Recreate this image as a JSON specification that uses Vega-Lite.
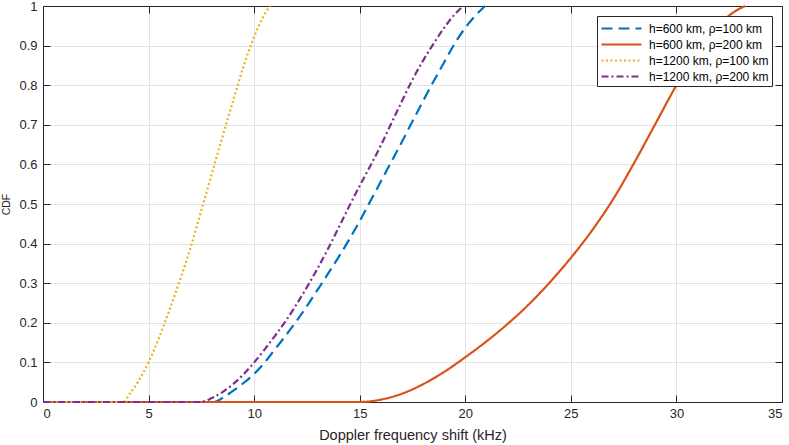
{
  "$schema": "https://vega.github.io/schema/vega-lite/v6.json",
  "width": 739,
  "height": 396,
  "autosize": {"type": "none"},
  "padding": {"left": 43, "top": 6, "right": 7, "bottom": 43},
  "background": "white",
  "data": {
    "values": [
      {"series": "h=600 km, ρ=100 km", "x": 0, "y": 0},
      {"series": "h=600 km, ρ=100 km", "x": 8.1, "y": 0},
      {"series": "h=600 km, ρ=100 km", "x": 8.5, "y": 0.01},
      {"series": "h=600 km, ρ=100 km", "x": 9, "y": 0.028},
      {"series": "h=600 km, ρ=100 km", "x": 9.5, "y": 0.048},
      {"series": "h=600 km, ρ=100 km", "x": 10, "y": 0.071},
      {"series": "h=600 km, ρ=100 km", "x": 10.5, "y": 0.1},
      {"series": "h=600 km, ρ=100 km", "x": 11, "y": 0.134},
      {"series": "h=600 km, ρ=100 km", "x": 11.5, "y": 0.168},
      {"series": "h=600 km, ρ=100 km", "x": 12, "y": 0.204},
      {"series": "h=600 km, ρ=100 km", "x": 12.5, "y": 0.242},
      {"series": "h=600 km, ρ=100 km", "x": 13, "y": 0.283},
      {"series": "h=600 km, ρ=100 km", "x": 13.5, "y": 0.324},
      {"series": "h=600 km, ρ=100 km", "x": 14, "y": 0.366},
      {"series": "h=600 km, ρ=100 km", "x": 14.5, "y": 0.41},
      {"series": "h=600 km, ρ=100 km", "x": 15, "y": 0.457},
      {"series": "h=600 km, ρ=100 km", "x": 15.5, "y": 0.507},
      {"series": "h=600 km, ρ=100 km", "x": 16, "y": 0.557},
      {"series": "h=600 km, ρ=100 km", "x": 16.5, "y": 0.607},
      {"series": "h=600 km, ρ=100 km", "x": 17, "y": 0.657},
      {"series": "h=600 km, ρ=100 km", "x": 17.5, "y": 0.709},
      {"series": "h=600 km, ρ=100 km", "x": 18, "y": 0.76},
      {"series": "h=600 km, ρ=100 km", "x": 18.5, "y": 0.81},
      {"series": "h=600 km, ρ=100 km", "x": 19, "y": 0.858},
      {"series": "h=600 km, ρ=100 km", "x": 19.5, "y": 0.905},
      {"series": "h=600 km, ρ=100 km", "x": 20, "y": 0.945},
      {"series": "h=600 km, ρ=100 km", "x": 20.5, "y": 0.977},
      {"series": "h=600 km, ρ=100 km", "x": 20.94, "y": 1.0},

      {"series": "h=600 km, ρ=200 km", "x": 0, "y": 0},
      {"series": "h=600 km, ρ=200 km", "x": 15.0, "y": 0},
      {"series": "h=600 km, ρ=200 km", "x": 16, "y": 0.006},
      {"series": "h=600 km, ρ=200 km", "x": 17, "y": 0.021},
      {"series": "h=600 km, ρ=200 km", "x": 18, "y": 0.045},
      {"series": "h=600 km, ρ=200 km", "x": 19, "y": 0.076},
      {"series": "h=600 km, ρ=200 km", "x": 20, "y": 0.113},
      {"series": "h=600 km, ρ=200 km", "x": 21, "y": 0.153},
      {"series": "h=600 km, ρ=200 km", "x": 22, "y": 0.197},
      {"series": "h=600 km, ρ=200 km", "x": 23, "y": 0.246},
      {"series": "h=600 km, ρ=200 km", "x": 24, "y": 0.302},
      {"series": "h=600 km, ρ=200 km", "x": 25, "y": 0.364},
      {"series": "h=600 km, ρ=200 km", "x": 26, "y": 0.433},
      {"series": "h=600 km, ρ=200 km", "x": 27, "y": 0.512},
      {"series": "h=600 km, ρ=200 km", "x": 28, "y": 0.604},
      {"series": "h=600 km, ρ=200 km", "x": 29, "y": 0.702},
      {"series": "h=600 km, ρ=200 km", "x": 30, "y": 0.8},
      {"series": "h=600 km, ρ=200 km", "x": 31, "y": 0.887},
      {"series": "h=600 km, ρ=200 km", "x": 32, "y": 0.952},
      {"series": "h=600 km, ρ=200 km", "x": 32.7, "y": 0.984},
      {"series": "h=600 km, ρ=200 km", "x": 33.25, "y": 1.0},

      {"series": "h=1200 km, ρ=100 km", "x": 0, "y": 0},
      {"series": "h=1200 km, ρ=100 km", "x": 3.8, "y": 0},
      {"series": "h=1200 km, ρ=100 km", "x": 4.1, "y": 0.02},
      {"series": "h=1200 km, ρ=100 km", "x": 4.5, "y": 0.051},
      {"series": "h=1200 km, ρ=100 km", "x": 5, "y": 0.1},
      {"series": "h=1200 km, ρ=100 km", "x": 5.5, "y": 0.163},
      {"series": "h=1200 km, ρ=100 km", "x": 6, "y": 0.234},
      {"series": "h=1200 km, ρ=100 km", "x": 6.5, "y": 0.31},
      {"series": "h=1200 km, ρ=100 km", "x": 7, "y": 0.392},
      {"series": "h=1200 km, ρ=100 km", "x": 7.5, "y": 0.484},
      {"series": "h=1200 km, ρ=100 km", "x": 8, "y": 0.577},
      {"series": "h=1200 km, ρ=100 km", "x": 8.5, "y": 0.67},
      {"series": "h=1200 km, ρ=100 km", "x": 9, "y": 0.76},
      {"series": "h=1200 km, ρ=100 km", "x": 9.5, "y": 0.848},
      {"series": "h=1200 km, ρ=100 km", "x": 10, "y": 0.922},
      {"series": "h=1200 km, ρ=100 km", "x": 10.4, "y": 0.97},
      {"series": "h=1200 km, ρ=100 km", "x": 10.75, "y": 1.0},

      {"series": "h=1200 km, ρ=200 km", "x": 0, "y": 0},
      {"series": "h=1200 km, ρ=200 km", "x": 7.45, "y": 0},
      {"series": "h=1200 km, ρ=200 km", "x": 8, "y": 0.01},
      {"series": "h=1200 km, ρ=200 km", "x": 8.5, "y": 0.025},
      {"series": "h=1200 km, ρ=200 km", "x": 9, "y": 0.045},
      {"series": "h=1200 km, ρ=200 km", "x": 9.5, "y": 0.07},
      {"series": "h=1200 km, ρ=200 km", "x": 10, "y": 0.1},
      {"series": "h=1200 km, ρ=200 km", "x": 10.5, "y": 0.133},
      {"series": "h=1200 km, ρ=200 km", "x": 11, "y": 0.168},
      {"series": "h=1200 km, ρ=200 km", "x": 11.5, "y": 0.205},
      {"series": "h=1200 km, ρ=200 km", "x": 12, "y": 0.246},
      {"series": "h=1200 km, ρ=200 km", "x": 12.5, "y": 0.29},
      {"series": "h=1200 km, ρ=200 km", "x": 13, "y": 0.337},
      {"series": "h=1200 km, ρ=200 km", "x": 13.5, "y": 0.387},
      {"series": "h=1200 km, ρ=200 km", "x": 14, "y": 0.44},
      {"series": "h=1200 km, ρ=200 km", "x": 14.5, "y": 0.494},
      {"series": "h=1200 km, ρ=200 km", "x": 15, "y": 0.546},
      {"series": "h=1200 km, ρ=200 km", "x": 15.5, "y": 0.596},
      {"series": "h=1200 km, ρ=200 km", "x": 16, "y": 0.648},
      {"series": "h=1200 km, ρ=200 km", "x": 16.5, "y": 0.704},
      {"series": "h=1200 km, ρ=200 km", "x": 17, "y": 0.76},
      {"series": "h=1200 km, ρ=200 km", "x": 17.5, "y": 0.814},
      {"series": "h=1200 km, ρ=200 km", "x": 18, "y": 0.862},
      {"series": "h=1200 km, ρ=200 km", "x": 18.5, "y": 0.905},
      {"series": "h=1200 km, ρ=200 km", "x": 19, "y": 0.945},
      {"series": "h=1200 km, ρ=200 km", "x": 19.5, "y": 0.979},
      {"series": "h=1200 km, ρ=200 km", "x": 19.91, "y": 1.0}
    ]
  },
  "layer": [
    {
      "mark": {"type": "line", "strokeWidth": 2.2, "interpolate": "monotone", "strokeCap": "butt"},
      "encoding": {
        "x": {
          "field": "x",
          "type": "quantitative",
          "scale": {"domain": [0, 35], "nice": false},
          "axis": {"title": "Doppler frequency shift (kHz)", "values": [0, 5, 10, 15, 20, 25, 30, 35], "grid": true}
        },
        "y": {
          "field": "y",
          "type": "quantitative",
          "scale": {"domain": [0, 1], "nice": false},
          "axis": {"title": "CDF", "values": [0, 0.1, 0.2, 0.3, 0.4, 0.5, 0.6, 0.7, 0.8, 0.9, 1], "format": "~g", "grid": true}
        },
        "color": {
          "field": "series",
          "type": "nominal",
          "sort": null,
          "scale": {
            "domain": ["h=600 km, ρ=100 km", "h=600 km, ρ=200 km", "h=1200 km, ρ=100 km", "h=1200 km, ρ=200 km"],
            "range": ["#0072BD", "#D95319", "#EDB120", "#7E2F8E"]
          },
          "legend": {"title": null}
        },
        "strokeDash": {
          "field": "series",
          "type": "nominal",
          "sort": null,
          "scale": {
            "domain": ["h=600 km, ρ=100 km", "h=600 km, ρ=200 km", "h=1200 km, ρ=100 km", "h=1200 km, ρ=200 km"],
            "range": [[11, 6], [1, 0], [2, 2.5], [7, 3, 2, 3]]
          },
          "legend": {"title": null}
        }
      }
    },
    {
      "mark": {"type": "line", "opacity": 0},
      "encoding": {
        "x": {
          "field": "x",
          "type": "quantitative",
          "scale": {"domain": [0, 35], "nice": false},
          "axis": {"orient": "top", "title": null, "labels": false, "grid": false, "values": [0, 5, 10, 15, 20, 25, 30, 35]}
        },
        "y": {
          "field": "y",
          "type": "quantitative",
          "scale": {"domain": [0, 1], "nice": false},
          "axis": {"orient": "right", "title": null, "labels": false, "grid": false, "values": [0, 0.1, 0.2, 0.3, 0.4, 0.5, 0.6, 0.7, 0.8, 0.9, 1]}
        },
        "detail": {"field": "series"}
      }
    }
  ],
  "resolve": {"axis": {"x": "independent", "y": "independent"}},
  "config": {
    "view": {"stroke": "#262626", "strokeWidth": 1},
    "font": "Liberation Sans",
    "axis": {
      "domainColor": "#262626",
      "domainWidth": 1,
      "tickColor": "#262626",
      "tickSize": -7,
      "tickWidth": 1,
      "gridColor": "#e3e3e3",
      "gridWidth": 1,
      "labelFont": "Liberation Sans",
      "labelFontSize": 13,
      "labelColor": "#262626",
      "titleFont": "Liberation Sans",
      "titleFontWeight": "normal",
      "titleColor": "#262626"
    },
    "axisX": {"labelPadding": 12, "titlePadding": 8, "titleFontSize": 14.5},
    "axisY": {"labelPadding": 13, "titlePadding": 7, "titleFontSize": 10.5},
    "legend": {
      "orient": "top-right",
      "offset": 10,
      "strokeColor": "#262626",
      "fillColor": "white",
      "padding": 3,
      "symbolType": "M-1,0H4",
      "symbolSize": 256,
      "symbolStrokeWidth": 2.2,
      "labelFont": "Liberation Sans",
      "labelFontSize": 12,
      "labelColor": "#000000",
      "labelOffset": 30,
      "rowPadding": 0
    }
  }
}
